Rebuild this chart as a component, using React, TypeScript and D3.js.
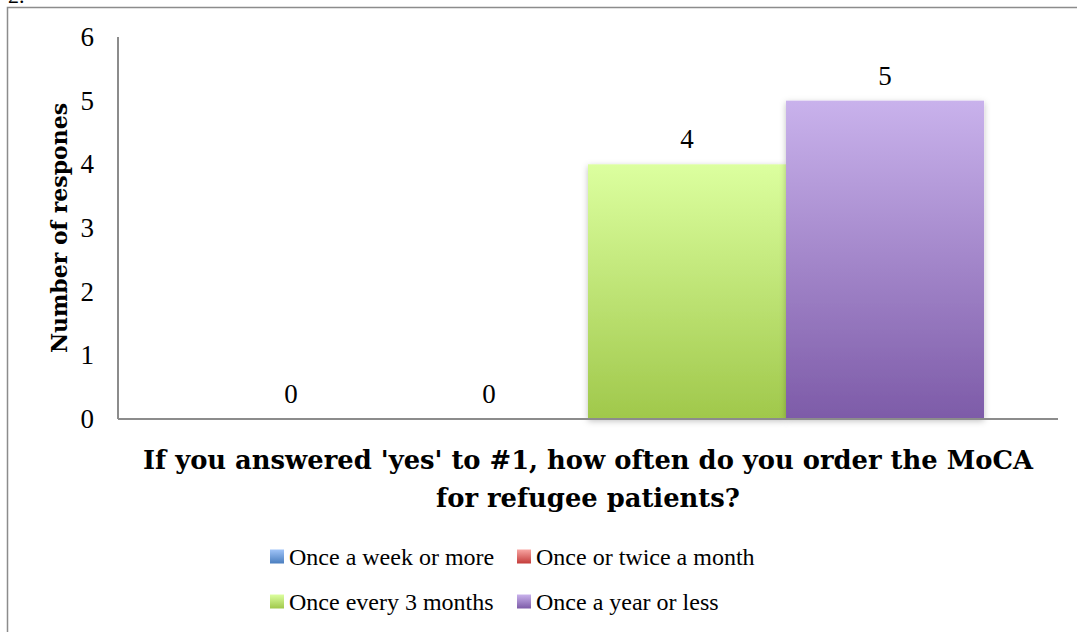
import React from "react";
import * as d3 from "d3";

const categories = ["Once a week or more", "Once or twice a month", "Once every 3 months", "Once a year or less"];
const values = [0, 0, 4, 5];
const yTicks = [0, 1, 2, 3, 4, 5, 6];
const colorsTop = ["#a0c4f8", "#f8a5a2", "#dcff9f", "#c9b2ec"];
const colorsBottom = ["#4a7ebf", "#c43c3a", "#a0c84b", "#7d5ba8"];
const titleLines = ["If you answered 'yes' to #1, how often do you order the MoCA", "for refugee patients?"];
const yTitle = "Number of respones";

const W = 1077;
const H = 632;
const SERIF = "'Liberation Serif', 'Times New Roman', serif";
const WIDE = "'DejaVu Serif', 'Liberation Serif', serif";

export default function App() {
  const x0 = 118, x1 = 1058, yBase = 419, yTop = 37;
  const y = d3.scaleLinear().domain([0, 6]).range([yBase, yTop]);
  const group = d3.scaleBand().domain(["g"]).range([x0, x1]).paddingInner(0).paddingOuter(0.0934);
  const xs = d3.scaleBand().domain(categories).range([group("g")!, group("g")! + group.bandwidth()]);
  const legendPos = [
    { x: 270, y: 556.5 },
    { x: 517, y: 556.5 },
    { x: 270, y: 601.5 },
    { x: 517, y: 601.5 },
  ];
  return (
    <svg width={W} height={H} style={{ position: "absolute", left: 0, top: 0, background: "#fff" }} fontFamily={SERIF}>
      <defs>
        {categories.map((c, i) => (
          <linearGradient key={c} id={`g${i}`} x1="0" y1="0" x2="0" y2="1">
            <stop offset="0" stopColor={colorsTop[i]} />
            <stop offset="1" stopColor={colorsBottom[i]} />
          </linearGradient>
        ))}
        <filter id="sh" x="-10%" y="-10%" width="120%" height="120%">
          <feDropShadow dx="0" dy="2" stdDeviation="3" floodColor="#000" floodOpacity="0.25" />
        </filter>
      </defs>
      <rect x={0} y={0} width={W} height={H} fill="#fff" />
      <text x={8} y={3} fontSize={22} fill="#000">2.</text>
      <rect x={7.5} y={7.5} width={W + 10} height={H + 10} fill="#fff" stroke="#8c8c8c" strokeWidth={1.5} />
      {categories.map((c, i) =>
        values[i] > 0 ? (
          <rect key={c} x={xs(c)!} y={y(values[i])} width={xs.bandwidth()} height={yBase - y(values[i])} fill={`url(#g${i})`} filter="url(#sh)" />
        ) : null
      )}
      <line x1={x0} x2={x0} y1={yTop} y2={yBase} stroke="#8c8c8c" strokeWidth={2} />
      <line x1={x0} x2={x1} y1={yBase} y2={yBase} stroke="#8c8c8c" strokeWidth={2} />
      {yTicks.map((t) => (
        <text key={t} x={94} y={y(t) + 9} textAnchor="end" fontSize={27} fill="#000">{t}</text>
      ))}
      {categories.map((c, i) => (
        <text key={c} x={xs(c)! + xs.bandwidth() / 2} y={y(values[i]) - 16} textAnchor="middle" fontSize={27} fill="#000">{values[i]}</text>
      ))}
      <text transform={`translate(67,228) rotate(-90)`} textAnchor="middle" fontSize={22} fontWeight="bold" fontFamily={WIDE} fill="#000">{yTitle}</text>
      {titleLines.map((l, i) => (
        <text key={i} x={588} y={469 + i * 38} textAnchor="middle" fontSize={25.8} fontWeight="bold" fontFamily={WIDE} fill="#000">{l}</text>
      ))}
      {categories.map((c, i) => (
        <g key={c}>
          <rect x={legendPos[i].x} y={legendPos[i].y - 7} width={14} height={14} fill={`url(#g${i})`} />
          <text x={legendPos[i].x + 19} y={legendPos[i].y + 8.5} fontSize={24} fill="#000">{c}</text>
        </g>
      ))}
    </svg>
  );
}
